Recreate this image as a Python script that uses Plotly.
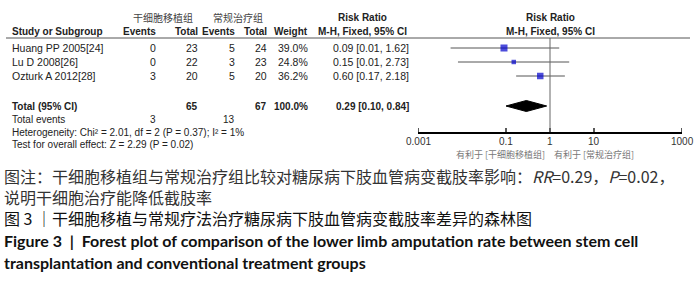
import math
import plotly.graph_objects as go

W, H = 700, 282

# ---------------- data ----------------
studies = ["Huang PP 2005[24]", "Lu D 2008[26]", "Ozturk A 2012[28]"]
exp_events = [0, 0, 3]
exp_total = [23, 22, 20]
ctl_events = [5, 3, 5]
ctl_total = [24, 23, 20]
weights = [39.0, 24.8, 36.2]
rr = [0.09, 0.15, 0.60]
ci_low = [0.0055, 0.0081, 0.17]
ci_high = [1.62, 2.73, 2.18]
ci_text = ["0.09 [0.01, 1.62]", "0.15 [0.01, 2.73]", "0.60 [0.17, 2.18]"]

total_exp = 65
total_ctl = 67
total_weight = "100.0%"
events_exp_sum = 3
events_ctl_sum = 13
pooled_rr = 0.29
pooled_low = 0.10
pooled_high = 0.84
pooled_text = "0.29 [0.10, 0.84]"
heterogeneity = "Heterogeneity: Chi² = 2.01, df = 2 (P = 0.37); I² = 1%"
overall = "Test for overall effect: Z = 2.29 (P = 0.02)"

tick_vals = [0.001, 0.1, 1, 10, 1000]
tick_text = ["0.001", "0.1", "1", "10", "1000"]

group_exp = "干细胞移植组"
group_ctl = "常规治疗组"
favours_left = "有利于 [干细胞移植组]"
favours_right = "有利于 [常规治疗组]"

caption1 = "图注：干细胞移植组与常规治疗组比较对糖尿病下肢血管病变截肢率影响：<i>RR</i>=0.29，<i>P</i>=0.02，"
caption2 = "说明干细胞治疗能降低截肢率"
caption3 = "图 3 ｜干细胞移植与常规疗法治疗糖尿病下肢血管病变截肢率差异的森林图"
caption4 = "Figure 3  |  Forest plot of comparison of the lower limb amputation rate between stem cell"
caption5 = "transplantation and conventional treatment groups"

# ---------------- layout constants ----------------
TF = "Liberation Sans, Arial, sans-serif"
CJK = "Noto Sans CJK SC, sans-serif"
EN = "Lato, Liberation Sans, sans-serif"
AXIS_Y = 132
LINE_Y = 38
ROW_Y0 = 48
ROW_H = 14
TOTAL_Y = 106
PLOT_L, PLOT_R = 418, 682

row_y = [ROW_Y0 + i * ROW_H for i in range(len(studies))]

fig = go.Figure()

# CI lines
for lo, hi, y in zip(ci_low, ci_high, row_y):
    fig.add_trace(go.Scatter(x=[lo, hi], y=[y, y], mode="lines",
                             line=dict(color="#555555", width=1), hoverinfo="skip"))
# squares
fig.add_trace(go.Scatter(x=rr, y=row_y, mode="markers",
                         marker=dict(symbol="square", size=[w * 0.18 for w in weights],
                                     color="#0000CC", line=dict(width=0)),
                         hoverinfo="skip"))
# diamond
dh = 5.5
fig.add_trace(go.Scatter(x=[pooled_low, pooled_rr, pooled_high, pooled_rr, pooled_low],
                         y=[TOTAL_Y, TOTAL_Y - dh, TOTAL_Y, TOTAL_Y + dh, TOTAL_Y],
                         mode="lines", fill="toself", fillcolor="black",
                         line=dict(color="black", width=1), hoverinfo="skip"))
# tick marks crossing the axis line
tx, ty = [], []
for v in tick_vals:
    tx += [v, v, None]
    ty += [AXIS_Y - 4, AXIS_Y + 3, None]
fig.add_trace(go.Scatter(x=tx, y=ty, mode="lines", line=dict(color="black", width=1.3),
                         hoverinfo="skip", cliponaxis=False))

shapes = [
    dict(type="line", xref="x", yref="y", x0=1, x1=1, y0=LINE_Y, y1=AXIS_Y,
         line=dict(color="#666666", width=1)),
    dict(type="line", xref="paper", yref="paper", x0=6 / W, x1=690 / W,
         y0=1 - LINE_Y / H, y1=1 - LINE_Y / H, line=dict(color="#555555", width=1)),
]

ann = []


def txt(x, y, s, anchor="left", size=10, color="#222222", bold=False, family=TF, align="left"):
    if bold:
        s = "<b>" + s + "</b>"
    ann.append(dict(x=x / W, y=1 - y / H, xref="paper", yref="paper", text=s,
                    showarrow=False, xanchor=anchor, yanchor="middle", borderpad=0,
                    align=align, font=dict(family=family, size=size, color=color)))


# column positions (right edges)
C_EV1, C_TO1, C_EV2, C_TO2, C_W, C_RR = 157, 199, 236, 268, 309, 410
C_RRH = 362

# group headers
txt(163, 18, group_exp, "center", 10, "#444444", family=CJK)
txt(238, 18, group_ctl, "center", 10, "#444444", family=CJK)
txt(C_RRH, 18, "Risk Ratio", "center", bold=True)
for yy, s in [(18, "Risk Ratio"), (32, "M-H, Fixed, 95% CI")]:
    ann.append(dict(x=0, y=1 - yy / H, xref="x", yref="paper", text="<b>" + s + "</b>",
                    showarrow=False, xanchor="center", yanchor="middle", borderpad=0,
                    font=dict(family=TF, size=10, color="#222222")))

# column headers
HY = 32
txt(11, HY, "Study or Subgroup", bold=True)
txt(C_EV1, HY, "Events", "right", bold=True)
txt(C_TO1, HY, "Total", "right", bold=True)
txt(C_EV2, HY, "Events", "right", bold=True)
txt(C_TO2, HY, "Total", "right", bold=True)
txt(C_W, HY, "Weight", "right", bold=True)
txt(C_RRH, HY, "M-H, Fixed, 95% CI", "center", bold=True)

# study rows
for i, y in enumerate(row_y):
    txt(11, y, studies[i], size=10.5)
    txt(C_EV1, y, str(exp_events[i]), "right", size=10.5)
    txt(C_TO1, y, str(exp_total[i]), "right", size=10.5)
    txt(C_EV2, y, str(ctl_events[i]), "right", size=10.5)
    txt(C_TO2, y, str(ctl_total[i]), "right", size=10.5)
    txt(C_W, y, f"{weights[i]:.1f}%", "right", size=10.5)
    txt(C_RR, y, ci_text[i], "right", size=10.5)

# totals
txt(11, TOTAL_Y, "Total (95% CI)", bold=True)
txt(C_TO1, TOTAL_Y, str(total_exp), "right", bold=True)
txt(C_TO2, TOTAL_Y, str(total_ctl), "right", bold=True)
txt(C_W, TOTAL_Y, total_weight, "right", bold=True)
txt(C_RR, TOTAL_Y, pooled_text, "right", bold=True)
txt(11, 120, "Total events")
txt(C_EV1, 120, str(events_exp_sum), "right")
txt(C_EV2, 120, str(events_ctl_sum), "right")
txt(11, 132, heterogeneity)
txt(11, 144, overall)

# tick labels placed just under the axis
for v, s in zip(tick_vals, tick_text):
    ann.append(dict(x=math.log10(v), y=1 - 141 / H, xref="x", yref="paper", text=s,
                    showarrow=False, xanchor="center", yanchor="middle", borderpad=0,
                    font=dict(family=TF, size=10, color="#333333")))

# favours labels
txt(546, 154, favours_left, "right", 9, "#777777", family=CJK)
txt(553, 154, favours_right, "left", 9, "#777777", family=CJK)

# captions (Chinese block: three lines, 1.3em line spacing)
cn_block = (caption1 + "<br>" + caption2 + "<br>"
            + '<span style="color:#111111">' + caption3 + "</span>")
txt(3, 197, cn_block, "left", 16, "#333333", family=CJK)
txt(3, 240, caption4, "left", 16, "#111111", bold=True, family=EN)
txt(3, 262, caption5, "left", 16, "#111111", bold=True, family=EN)

fig.update_layout(
    width=W, height=H, margin=dict(l=0, r=0, t=0, b=0),
    paper_bgcolor="white", plot_bgcolor="rgba(0,0,0,0)", showlegend=False,
    shapes=shapes, annotations=ann,
    xaxis=dict(type="log", range=[-3, 3], domain=[PLOT_L / W, PLOT_R / W],
               tickvals=tick_vals, showticklabels=False, ticks="",
               showline=True, linecolor="black",
               linewidth=1.5, showgrid=False, zeroline=False, fixedrange=True),
    yaxis=dict(range=[AXIS_Y, 0], domain=[1 - AXIS_Y / H, 1], visible=False,
               showgrid=False, zeroline=False, fixedrange=True),
)

fig.write_html("out.html", config={"displayModeBar": False},
               post_script="document.body.style.margin='0';document.body.style.padding='0';")
